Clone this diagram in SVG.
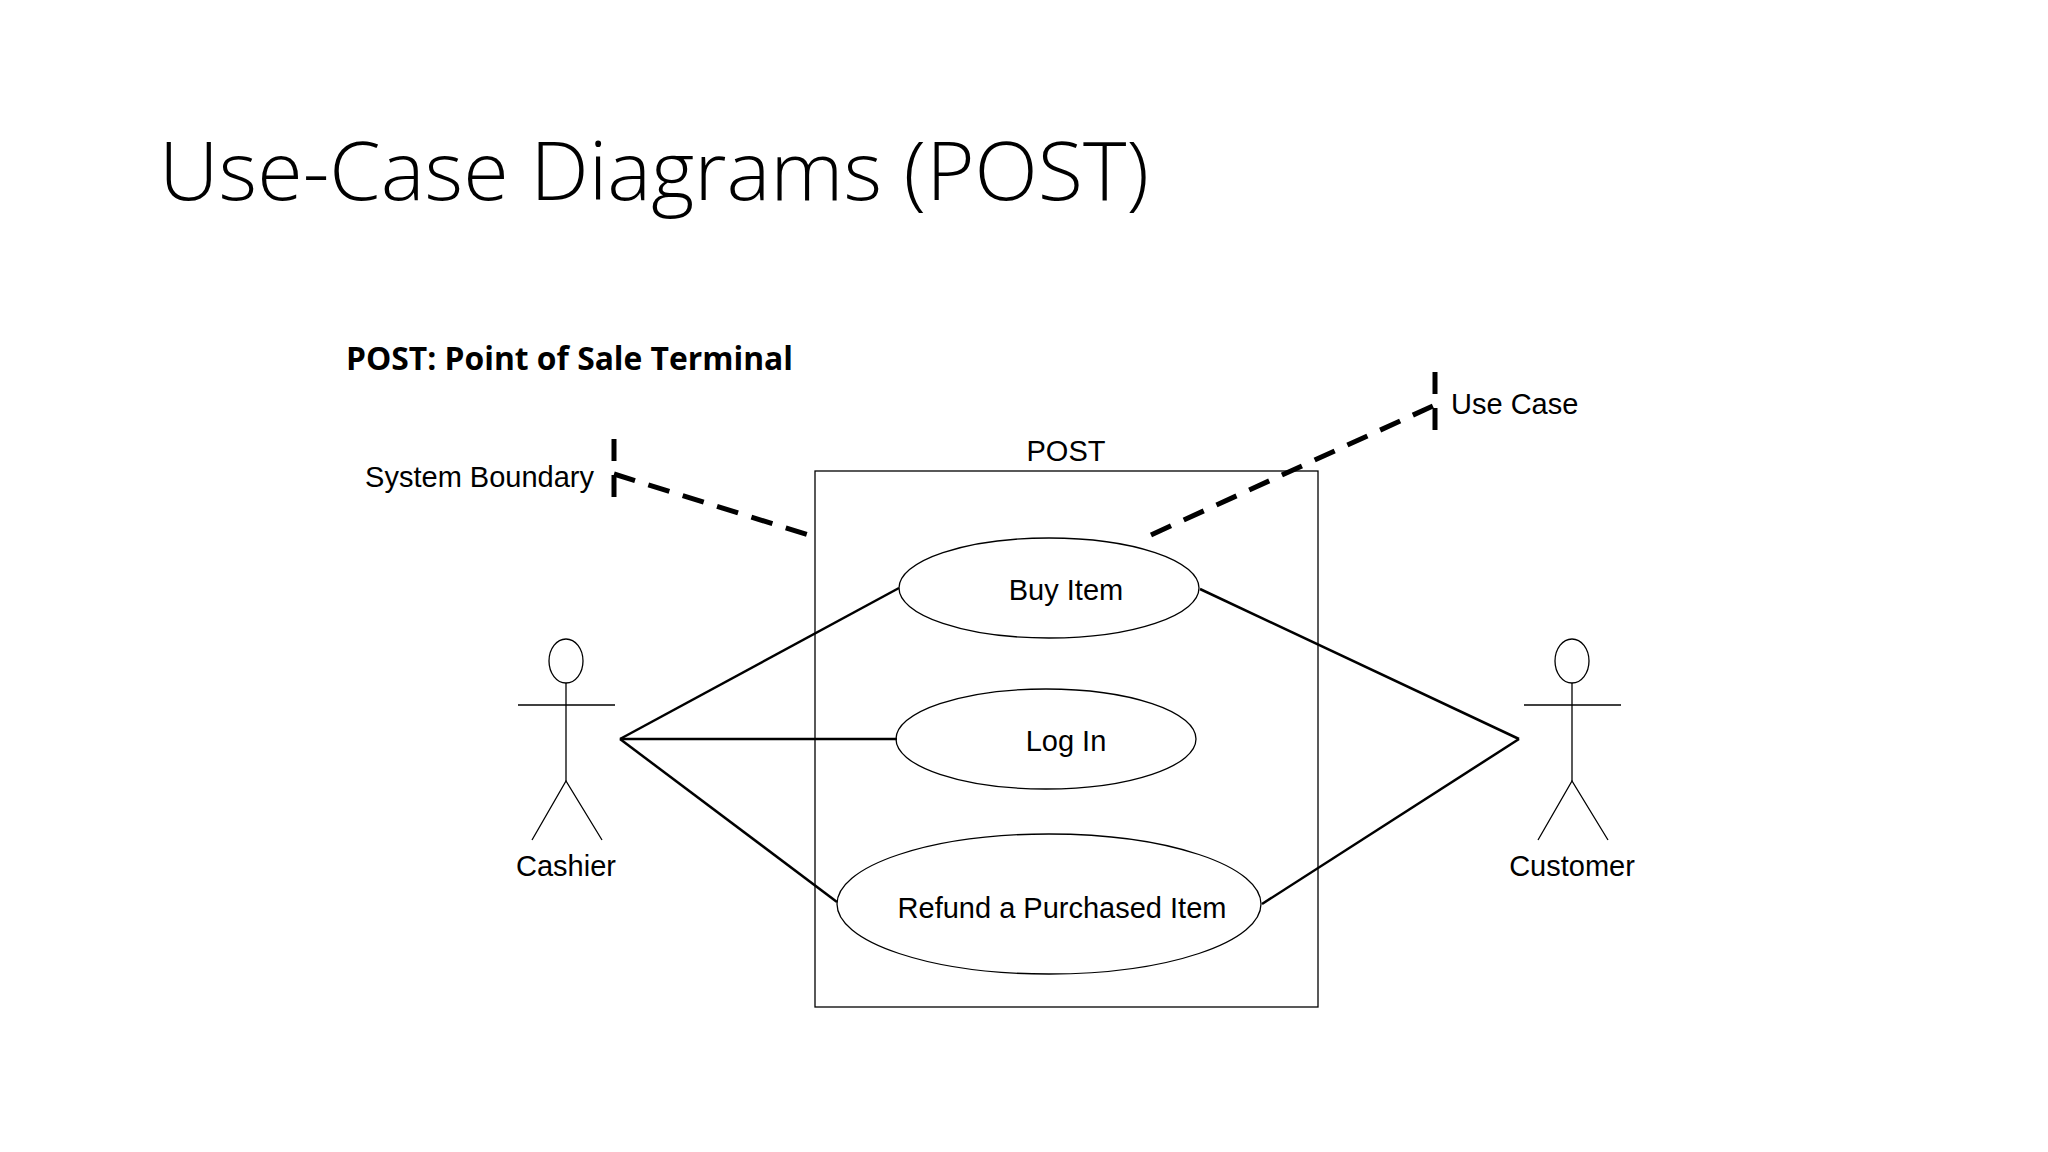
<svg xmlns="http://www.w3.org/2000/svg" width="2048" height="1152" viewBox="0 0 2048 1152">
<style>
.t{font-family:"Liberation Sans",Arial,sans-serif;font-size:29px;fill:#000}
.s{fill:none;stroke:#000;stroke-width:1.3}
.c{stroke:#000;stroke-width:2.5;fill:none}
.d{stroke:#000;stroke-width:5;fill:none;stroke-dasharray:22 14}
</style>
<rect width="2048" height="1152" fill="#fff"/>
<text x="159" y="200" font-family="'Open Sans',sans-serif" font-weight="300" font-size="82" textLength="990" lengthAdjust="spacingAndGlyphs">Use-Case Diagrams (POST)</text>
<text x="346" y="370" font-family="'Open Sans',sans-serif" font-weight="700" font-size="33" textLength="447" lengthAdjust="spacingAndGlyphs">POST: Point of Sale Terminal</text>
<g id="boundary">
<rect x="815" y="471" width="503" height="536" class="s"/>
<text x="1066" y="461" class="t" text-anchor="middle">POST</text>
</g>
<g id="connectors">
<line x1="620" y1="739" x2="899" y2="588" class="c"/>
<line x1="620" y1="739" x2="897" y2="739" class="c"/>
<line x1="620" y1="739" x2="837" y2="902" class="c"/>
<line x1="1519" y1="739" x2="1200" y2="589" class="c"/>
<line x1="1519" y1="739" x2="1262" y2="904" class="c"/>
<line x1="614" y1="474" x2="815" y2="537" class="d"/>
<line x1="614" y1="439" x2="614" y2="503" class="d" stroke-dasharray="18 12"/>
<line x1="1151" y1="535" x2="1435" y2="405" class="d"/>
<line x1="1435" y1="372" x2="1435" y2="435" class="d" stroke-dasharray="18 12"/>
</g>
<g id="label-sb"><text x="594" y="487" class="t" text-anchor="end">System Boundary</text></g>
<g id="label-uc"><text x="1451" y="414" class="t">Use Case</text></g>
<g id="buy"><ellipse cx="1049" cy="588" rx="150" ry="50" class="s" fill="#fff"/><text x="1066" y="600" class="t" text-anchor="middle">Buy Item</text></g>
<g id="login"><ellipse cx="1046" cy="739" rx="150" ry="50" class="s" fill="#fff"/><text x="1066" y="751" class="t" text-anchor="middle">Log In</text></g>
<g id="refund"><ellipse cx="1049" cy="904" rx="212" ry="70" class="s" fill="#fff"/><text x="1062" y="918" class="t" text-anchor="middle">Refund a Purchased Item</text></g>
<g id="cashier">
<ellipse cx="566" cy="661" rx="17" ry="22" class="s"/>
<line x1="566" y1="683" x2="566" y2="781" class="s"/>
<line x1="518" y1="705" x2="615" y2="705" class="s"/>
<polyline points="532,840 566,781 602,840" class="s"/>
<text x="566" y="876" class="t" text-anchor="middle">Cashier</text>
</g>
<g id="customer">
<ellipse cx="1572" cy="661" rx="17" ry="22" class="s"/>
<line x1="1572" y1="683" x2="1572" y2="781" class="s"/>
<line x1="1524" y1="705" x2="1621" y2="705" class="s"/>
<polyline points="1538,840 1572,781 1608,840" class="s"/>
<text x="1572" y="876" class="t" text-anchor="middle">Customer</text>
</g>
</svg>
